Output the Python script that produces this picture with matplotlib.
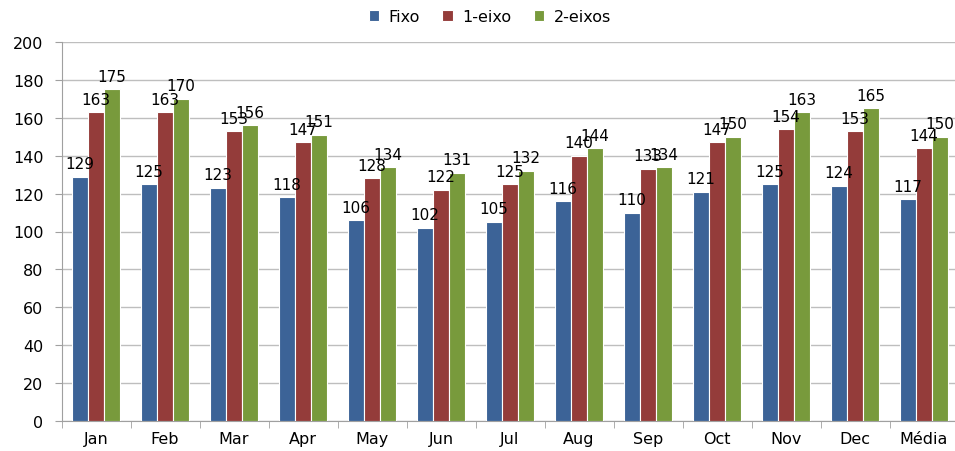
import matplotlib
matplotlib.use('Agg')
import matplotlib.pyplot as plt
import numpy as np

# dados
months = ['Jan', 'Feb', 'Mar', 'Apr', 'May', 'Jun', 'Jul', 'Aug', 'Sep',
          'Oct', 'Nov', 'Dec', 'Média']
fixo = [129, 125, 123, 118, 106, 102, 105, 116, 110, 121, 125, 124, 117]
eixo1 = [163, 163, 153, 147, 128, 122, 125, 140, 133, 147, 154, 153, 144]
eixos2 = [175, 170, 156, 151, 134, 131, 132, 144, 134, 150, 163, 165, 150]

series_names = ['Fixo', '1-eixo', '2-eixos']
colors = ['#3C6397', '#943C3A', '#789A3C']

plt.rcParams['font.family'] = ['DejaVu Sans']

fig = plt.figure(figsize=(9.55, 4.52), dpi=100)
ax = fig.add_axes([61.5 / 955, 30 / 452, 897 / 955, 379 / 452])

x = np.arange(len(months))
w = 0.22
off = 0.232
for i, (vals, name, c) in enumerate(zip([fixo, eixo1, eixos2], series_names, colors)):
    pos = x + (i - 1) * off
    ax.bar(pos, vals, w, color=c, edgecolor='white', linewidth=0.8,
           label=name, zorder=3)
    for xp, v in zip(pos, vals):
        ax.annotate(str(v), (xp, v), xytext=(0, 4), textcoords='offset points',
                    ha='center', va='bottom', fontsize=11, color='black', zorder=4)

ax.set_xlim(-0.5, len(months) - 0.5)
ax.set_ylim(0, 200)
ax.set_yticks(range(0, 201, 20))
ax.tick_params(axis='y', labelsize=11.5, length=5, color='#A0A0A0', pad=8)
ax.grid(axis='y', color='#BEBEBE', linewidth=1, zorder=0)

ax.set_xticks(x)
ax.set_xticklabels(months, fontsize=11.5)
ax.set_xticks(np.arange(-0.5, len(months), 1), minor=True)
ax.tick_params(axis='x', which='major', length=0, pad=7)
ax.tick_params(axis='x', which='minor', length=5, color='#A0A0A0')

for s in ['top', 'right']:
    ax.spines[s].set_visible(False)
for s in ['left', 'bottom']:
    ax.spines[s].set_color('#A0A0A0')

fig.legend(loc='upper center', bbox_to_anchor=(0.513, 1.01), ncol=3, frameon=False,
           fontsize=11.5, handlelength=0.65, handleheight=0.65, columnspacing=1.4,
           handletextpad=0.6)

fig.savefig('out.png', dpi=100)
